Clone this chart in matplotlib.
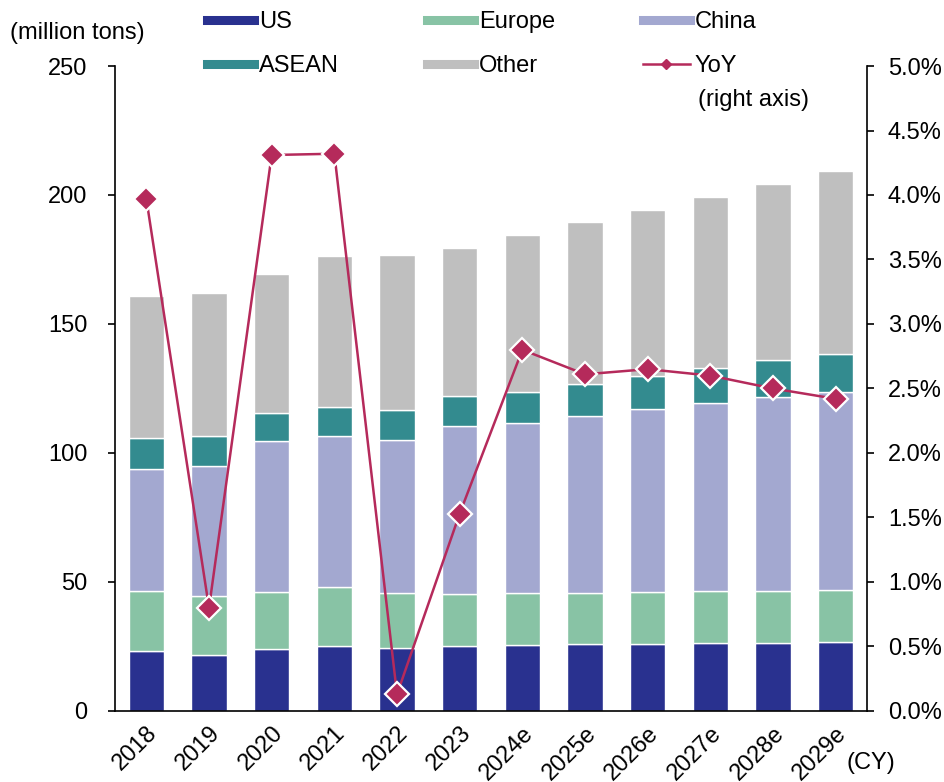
import matplotlib.pyplot as plt
from matplotlib.lines import Line2D
from matplotlib.ticker import FuncFormatter

plt.rcParams['font.family'] = ['Liberation Sans', 'DejaVu Sans']
plt.rcParams['font.size'] = 17

years = ['2018', '2019', '2020', '2021', '2022', '2023',
         '2024e', '2025e', '2026e', '2027e', '2028e', '2029e']

# demand by region (million tons)
us = [23.3, 21.8, 24.2, 25.3, 24.3, 25.2, 25.6, 25.8, 26.1, 26.4, 26.5, 26.9]
europe = [23.3, 22.9, 22.0, 22.9, 21.3, 20.3, 20.0, 20.1, 20.1, 20.2, 20.2, 20.1]
china = [47.2, 50.3, 58.5, 58.5, 59.3, 65.0, 66.1, 68.3, 70.7, 72.6, 74.9, 76.5]
asean = [12.0, 11.7, 10.8, 11.2, 11.6, 11.4, 12.1, 12.7, 13.1, 13.9, 14.3, 14.9]
other = [55.2, 55.4, 53.8, 58.6, 60.2, 57.4, 60.7, 62.5, 64.2, 66.3, 68.4, 70.9]

# year-on-year growth of total demand (%)
yoy = [3.97, 0.80, 4.31, 4.32, 0.13, 1.53, 2.80, 2.61, 2.65, 2.60, 2.50, 2.42]

series = [('US', us, '#29318f'),
          ('Europe', europe, '#88c3a5'),
          ('China', china, '#a3a8d0'),
          ('ASEAN', asean, '#338b8f'),
          ('Other', other, '#bfbfbf')]
line_color = '#b52a5b'

fig = plt.figure(figsize=(9.45, 7.82), dpi=100)
ax = fig.add_axes([0.1217, 0.0908, 0.7958, 0.8248])

x = list(range(len(years)))
bottom = [0.0] * len(years)
for name, vals, color in series:
    ax.bar(x, vals, width=0.56, bottom=bottom, color=color,
           edgecolor='white', linewidth=1.0, zorder=2)
    bottom = [b + v for b, v in zip(bottom, vals)]

ax.set_xlim(-0.5, len(years) - 0.5)
ax.set_ylim(0, 250)
ax.set_yticks(range(0, 251, 50))
ax.set_xticks(x)
ax.set_xticklabels(years, rotation=45, ha='right', rotation_mode='anchor')
ax.tick_params(axis='x', length=0, pad=8)
ax.tick_params(axis='y', length=5, width=1.2, direction='out', pad=15)
for s in ['top', 'right']:
    ax.spines[s].set_visible(False)
ax.spines['left'].set_linewidth(1.2)
ax.spines['bottom'].set_linewidth(1.2)

ax2 = ax.twinx()
ax2.plot(x, yoy, color=line_color, linewidth=1.8, marker='D',
         markersize=12, markerfacecolor=line_color,
         markeredgecolor='white', markeredgewidth=1.6, zorder=5)
ax2.set_ylim(0, 5)
ax2.set_yticks([i * 0.5 for i in range(11)])
ax2.yaxis.set_major_formatter(FuncFormatter(lambda v, p: f'{v:.1f}%'))
ax2.tick_params(axis='y', length=5, width=1.2, direction='out', pad=10)
for s in ['top', 'left', 'bottom']:
    ax2.spines[s].set_visible(False)
ax2.spines['right'].set_linewidth(1.2)

fig.text(0.011, 0.958, '(million tons)', ha='left', va='center')
fig.text(0.896, 0.024, '(CY)', ha='left', va='center')

# legend: three columns of two entries each
handles = [Line2D([], [], color=c, linewidth=6.5) for _, _, c in series]
handles.append(Line2D([], [], color=line_color, linewidth=1.8, marker='D',
                      markersize=5, markeredgecolor=line_color))
labels = [n for n, _, _ in series] + ['YoY']
columns = [([0, 3], 0.219), ([1, 4], 0.452), ([2, 5], 0.680)]
for idx, x0 in columns:
    fig.legend([handles[i] for i in idx], [labels[i] for i in idx],
               loc='upper left', bbox_to_anchor=(x0, 0.986),
               frameon=False, handlelength=2.0, handletextpad=0.2,
               labelspacing=0.95, borderpad=0, borderaxespad=0, numpoints=1)
fig.text(0.739, 0.872, '(right axis)', ha='left', va='center')

fig.savefig('out.png', dpi=100)
